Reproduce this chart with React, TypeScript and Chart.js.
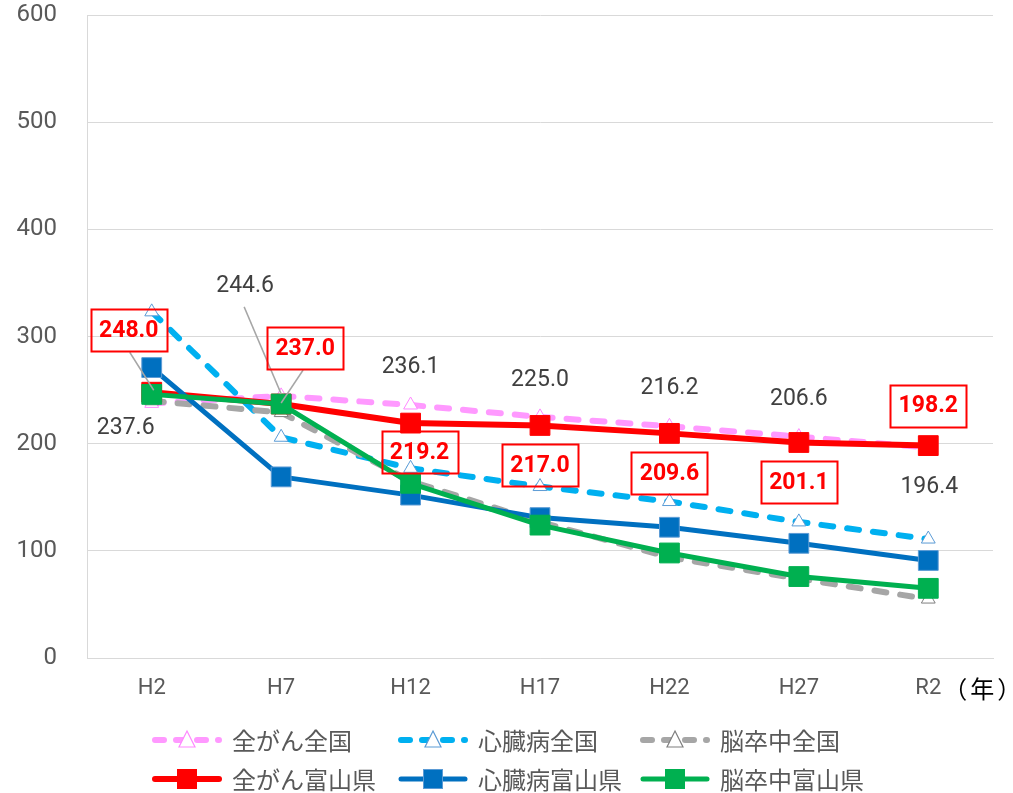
import React, { useEffect, useRef } from 'react';
import { Chart, registerables } from 'chart.js';

Chart.register(...registerables);

const categories = ['H2', 'H7', 'H12', 'H17', 'H22', 'H27', 'R2'];
const cancerNational = [237.6, 244.6, 236.1, 225.0, 216.2, 206.6, 196.4];
const heartNational = [323, 206, 177, 160, 146, 127, 111];
const strokeNational = [240, 229, 165, 127, 94, 74, 55];
const cancerToyama = [248.0, 237.0, 219.2, 217.0, 209.6, 201.1, 198.2];
const heartToyama = [271, 169, 152, 131, 122, 107, 91];
const strokeToyama = [246, 237, 163, 124, 98, 76, 65];
const seriesNames = ['全がん全国', '心臓病全国', '脳卒中全国', '全がん富山県', '心臓病富山県', '脳卒中富山県'];
const yMin = 0;
const yMax = 600;
const yStep = 100;
const xUnitLabel = '（年）';

const NUM_FONT = 'Roboto, "Noto Sans", sans-serif';
const JP_FONT = '"Noto Sans CJK JP", "Noto Sans", sans-serif';

// label layout (pixel offsets from point)
const grayLabelOffsets = [[-26, 25], [-36, -110], [0, -38], [0, -37], [0, -38], [0, -37], [1, 40]];
const redLabelOffsets = [[-23, -62], [24, -56], [9, 29], [0, 40], [0, 40], [0, 40], [0, -40]];

const styles = [
  { color: '#FF99FF', dash: [12, 14], marker: 'triangle', mFill: '#FFFFFF', mBorder: '#FF88FF', width: 6 },
  { color: '#00B0F0', dash: [12, 14], marker: 'triangle', mFill: '#FFFFFF', mBorder: '#5B9BD5', width: 6 },
  { color: '#A6A6A6', dash: [12, 14], marker: 'triangle', mFill: '#FFFFFF', mBorder: '#7F7F7F', width: 6 },
  { color: '#FF0000', dash: [], marker: 'rect', mFill: '#FF0000', mBorder: '#FF0000', width: 6 },
  { color: '#0070C0', dash: [], marker: 'rect', mFill: '#0070C0', mBorder: '#5B9BD5', width: 5 },
  { color: '#00B050', dash: [], marker: 'rect', mFill: '#00B050', mBorder: '#00B050', width: 5 },
];

const seriesValues = [cancerNational, heartNational, strokeNational, cancerToyama, heartToyama, strokeToyama];
const drawOrder = [6, 5, 4, 3, 2, 1];

const overlayPlugin = {
  id: 'overlay',
  afterDatasetsDraw(chart: any) {
    const ctx = chart.ctx;
    const xs = chart.scales.x;
    const ys = chart.scales.y;
    ctx.save();
    ctx.strokeStyle = '#A6A6A6';
    ctx.lineWidth = 1.5;
    const lead = (x1: number, y1: number, x2: number, y2: number) => {
      ctx.beginPath();
      ctx.moveTo(x1, y1);
      ctx.lineTo(x2, y2);
      ctx.stroke();
    };
    {
      const px = xs.getPixelForValue(1);
      const py = ys.getPixelForValue(cancerNational[1]);
      lead(px - 37, py - 89, px, py - 2);
      const rpy = ys.getPixelForValue(cancerToyama[1]);
      lead(px + 22, rpy - 34, px, rpy - 1);
      const hx = xs.getPixelForValue(0);
      const hy = ys.getPixelForValue(cancerToyama[0]);
      lead(hx - 22, hy - 40, hx + 2, hy - 2);
    }
    ctx.font = `23px ${NUM_FONT}`;
    ctx.fillStyle = '#404040';
    ctx.textAlign = 'center';
    ctx.textBaseline = 'middle';
    cancerNational.forEach((v, i) => {
      const px = xs.getPixelForValue(i) + grayLabelOffsets[i][0];
      const py = ys.getPixelForValue(v) + grayLabelOffsets[i][1];
      ctx.fillText(v.toFixed(1), px, py);
    });
    ctx.font = `bold 23px ${NUM_FONT}`;
    cancerToyama.forEach((v, i) => {
      const cx = xs.getPixelForValue(i) + redLabelOffsets[i][0];
      const cy = ys.getPixelForValue(v) + redLabelOffsets[i][1];
      const t = v.toFixed(1);
      const w = 76;
      const h = 42;
      ctx.strokeStyle = '#FF0000';
      ctx.lineWidth = 2;
      ctx.strokeRect(Math.round(cx - w / 2) + 0.5, Math.round(cy - h / 2) + 0.5, w, h);
      ctx.fillStyle = '#FF0000';
      ctx.fillText(t, cx, cy + 1);
    });
    ctx.restore();
  },
  afterDraw(chart: any) {
    const ctx = chart.ctx;
    const xs = chart.scales.x;
    ctx.save();
    ctx.font = `24px ${JP_FONT}`;
    try { (ctx as any).letterSpacing = '3px'; } catch (e) { /* ignore */ }
    ctx.fillStyle = '#000000';
    ctx.textAlign = 'left';
    ctx.textBaseline = 'middle';
    ctx.fillText(xUnitLabel, xs.getPixelForValue(6) + 15, 689);
    try { (ctx as any).letterSpacing = '0px'; } catch (e) { /* ignore */ }
    const colX = [152, 398, 640];
    const rowY = [740, 779];
    seriesNames.forEach((name, i) => {
      const st = styles[i];
      const x0 = colX[i % 3];
      const y0 = rowY[Math.floor(i / 3)];
      ctx.strokeStyle = st.color;
      ctx.lineWidth = st.width;
      ctx.lineCap = 'round';
      ctx.setLineDash(st.dash.length ? [9, 12] : []);
      ctx.beginPath();
      ctx.moveTo(x0 + 3, y0);
      ctx.lineTo(x0 + 67, y0);
      ctx.stroke();
      ctx.setLineDash([]);
      const mx = x0 + 35;
      if (st.marker === 'rect') {
        ctx.fillStyle = st.mFill;
        ctx.fillRect(mx - 10, y0 - 10, 20, 20);
        ctx.strokeStyle = st.mBorder;
        ctx.lineWidth = 1;
        ctx.strokeRect(mx - 10 + 0.5, y0 - 10 + 0.5, 19, 19);
      } else {
        ctx.fillStyle = '#FFFFFF';
        ctx.strokeStyle = st.mBorder;
        ctx.lineWidth = 1.2;
        ctx.beginPath();
        ctx.moveTo(mx, y0 - 9);
        ctx.lineTo(mx + 8, y0 + 7);
        ctx.lineTo(mx - 8, y0 + 7);
        ctx.closePath();
        ctx.fill();
        ctx.stroke();
      }
      ctx.font = `24px ${JP_FONT}`;
      ctx.fillStyle = '#595959';
      ctx.textAlign = 'left';
      ctx.textBaseline = 'middle';
      ctx.fillText(name, x0 + 80, y0 + 1);
    });
    ctx.restore();
  },
};

export default function App() {
  const ref = useRef<HTMLCanvasElement | null>(null);
  useEffect(() => {
    if (!ref.current) return;
    const chart = new Chart(ref.current, {
      type: 'line',
      data: {
        labels: categories,
        datasets: seriesValues.map((vals, i) => {
          const st = styles[i];
          return {
            label: seriesNames[i],
            data: vals,
            order: drawOrder[i],
            borderColor: st.color,
            borderWidth: st.width,
            borderDash: st.dash,
            borderCapStyle: st.dash.length ? 'round' : 'butt',
            borderJoinStyle: 'round',
            tension: 0,
            fill: false,
            pointStyle: st.marker,
            pointRadius: st.marker === 'rect' ? 14 : 8,
            pointBackgroundColor: st.mFill,
            pointBorderColor: st.mBorder,
            pointBorderWidth: 1,
          } as any;
        }),
      },
      options: {
        responsive: false,
        animation: false,
        devicePixelRatio: 1,
        layout: { padding: { left: 0, top: 15, right: 20, bottom: 85 } },
        plugins: { legend: { display: false }, tooltip: { enabled: false } },
        scales: {
          x: {
            offset: true,
            grid: { display: false, drawTicks: false },
            border: { display: true, color: '#D9D9D9', width: 1 },
            ticks: { color: '#595959', font: { family: NUM_FONT, size: 22 }, padding: 17 },
            afterFit: (s: any) => { s.height = 50; s.paddingLeft = 0; s.paddingRight = 0; },
          },
          y: {
            min: yMin,
            max: yMax,
            ticks: { stepSize: yStep, color: '#595959', font: { family: NUM_FONT, size: 24 }, padding: 30 },
            grid: { color: '#D9D9D9', lineWidth: 1, drawTicks: false },
            border: { display: true, color: '#D9D9D9', width: 1 },
            afterFit: (s: any) => { s.width = 87; s.paddingTop = 0; s.paddingBottom = 0; },
          },
        },
      } as any,
      plugins: [overlayPlugin],
    });
    return () => chart.destroy();
  }, []);
  return (
    <div style={{ position: 'fixed', left: 0, top: 0, width: 1013, height: 793, background: '#FFFFFF' }}>
      <canvas ref={ref} width={1013} height={793} style={{ display: 'block', width: 1013, height: 793 }} />
    </div>
  );
}
